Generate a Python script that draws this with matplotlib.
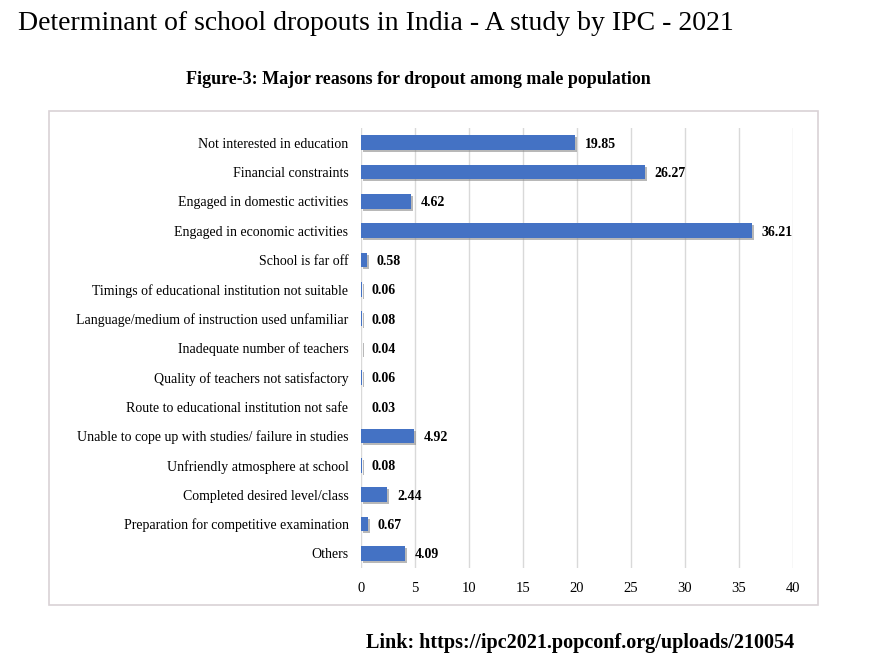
import matplotlib
matplotlib.use("Agg")
import matplotlib.pyplot as plt
import matplotlib.patheffects as pe
from matplotlib.patches import Rectangle

reasons = [
    "Not interested in education",
    "Financial constraints",
    "Engaged in domestic activities",
    "Engaged in economic activities",
    "School is far off",
    "Timings of educational institution not suitable",
    "Language/medium of instruction used unfamiliar",
    "Inadequate number of teachers",
    "Quality of teachers not satisfactory",
    "Route to educational institution not safe",
    "Unable to cope up with studies/ failure in studies",
    "Unfriendly atmosphere at school",
    "Completed desired level/class",
    "Preparation for competitive examination",
    "Others",
]
values = [19.85, 26.27, 4.62, 36.21, 0.58, 0.06, 0.08, 0.04, 0.06, 0.03,
          4.92, 0.08, 2.44, 0.67, 4.09]
xticks = [0, 5, 10, 15, 20, 25, 30, 35, 40]

plt.rcParams['font.family'] = ['Liberation Serif', 'DejaVu Serif']

fig = plt.figure(figsize=(8.75, 6.71), dpi=100)
W, H = 875, 671

# outer frame around the chart
fig.patches.append(Rectangle((49 / W, 1 - 605 / H), (818 - 49) / W, (605 - 111) / H,
                             transform=fig.transFigure, fill=False,
                             edgecolor="#d9d2d6", linewidth=1.2))

ax = fig.add_axes([361 / W, 1 - 568 / H, (793 - 361) / W, (568 - 128) / H])
ypos = list(range(len(reasons)))
bars = ax.barh(ypos, values, height=0.5, color="#4472c4", zorder=3)
for b in bars:
    b.set_path_effects([pe.SimplePatchShadow(offset=(1.5, -1.5), shadow_rgbFace="#8a8a8a", alpha=0.6),
                        pe.Normal()])

for y, v in zip(ypos, values):
    ax.text(v + 0.9, y + 0.05, f"{v:.2f}", va="center", ha="left",
            fontsize=10, fontweight="bold", color="black")

ax.set_xlim(0, 40)
ax.set_ylim(len(reasons) - 0.5, -0.5)
ax.set_xticks(xticks)
ax.set_xticklabels([str(t) for t in xticks], fontsize=10.5)
ax.set_yticks(ypos)
ax.set_yticklabels(reasons, fontsize=10)
ax.tick_params(axis="both", length=0)
ax.tick_params(axis="x", pad=10)
ax.tick_params(axis="y", pad=9)
ax.grid(axis="x", color="#d9d9d9", linewidth=1, zorder=0)
for s in ax.spines.values():
    s.set_visible(False)

fig.text(18 / W, 1 - 24 / H, "Determinant of school dropouts in India - A study by IPC - 2021",
         fontsize=20, ha="left", va="center")
fig.text(418 / W, 1 - 80 / H, "Figure-3: Major reasons for dropout among male population",
         fontsize=13, fontweight="bold", ha="center", va="center")
fig.text(580 / W, 1 - 643 / H, "Link: https://ipc2021.popconf.org/uploads/210054",
         fontsize=14.5, fontweight="bold", ha="center", va="center")

fig.savefig("out.png", dpi=100)
